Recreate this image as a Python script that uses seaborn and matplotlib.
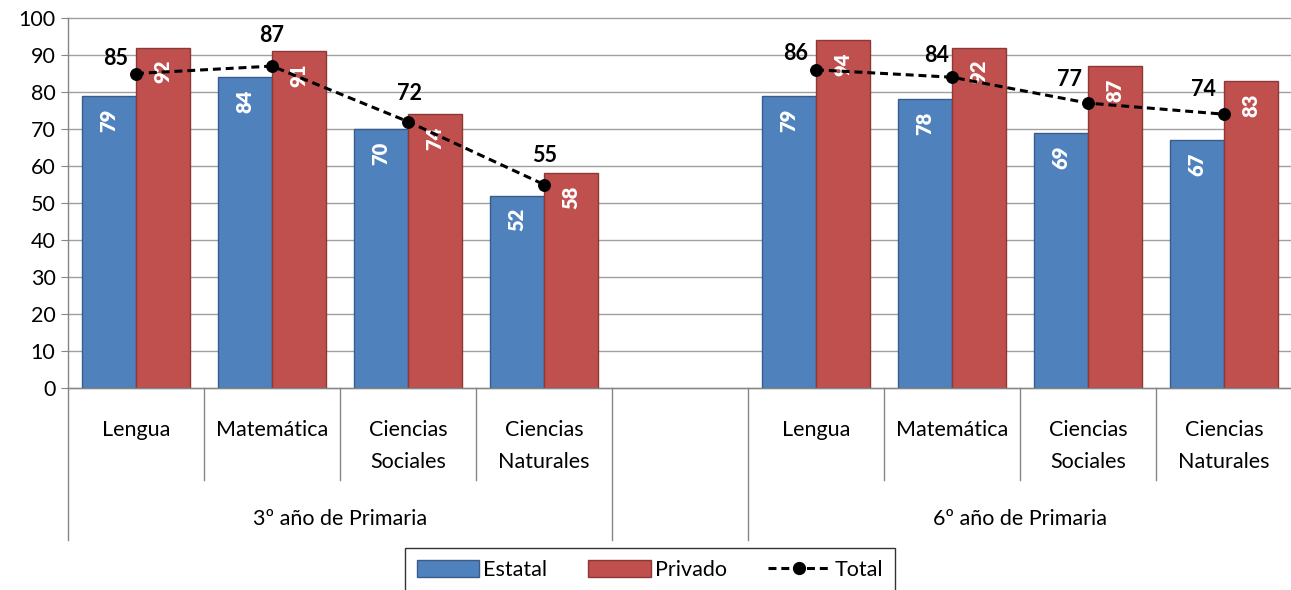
import numpy as np
import pandas as pd
import matplotlib
matplotlib.use("Agg")
import matplotlib.pyplot as plt
from matplotlib.patches import Patch
from matplotlib.lines import Line2D
import seaborn as sns

# ---------------- data ----------------
grupos = ["3º año de Primaria", "6º año de Primaria"]
materias = ["Lengua", "Matemática", "Ciencias\nSociales", "Ciencias\nNaturales"]
estatal_3 = [79, 84, 70, 52]
privado_3 = [92, 91, 74, 58]
total_3 = [85, 87, 72, 55]
estatal_6 = [79, 78, 69, 67]
privado_6 = [94, 92, 87, 83]
total_6 = [86, 84, 77, 74]
series = ["Estatal", "Privado"]
y_ticks = list(range(0, 101, 10))

# ---------------- styles ----------------
BLUE, BLUE_E = "#4F81BD", "#385D8A"
RED, RED_E = "#C0504D", "#8C3836"
GRID = "#A0A0A0"
FONT = ["Lato", "DejaVu Sans"]
plt.rcParams["font.family"] = FONT

# categorical slots: 4 subjects, an empty gap, 4 subjects
keys = [f"3-{i}" for i in range(4)] + ["gap"] + [f"6-{i}" for i in range(4)]
tick_labels = materias + [""] + materias

rows = []
for i in range(4):
    rows.append((keys[i], "Estatal", estatal_3[i]))
    rows.append((keys[i], "Privado", privado_3[i]))
rows.append(("gap", "Estatal", np.nan))
rows.append(("gap", "Privado", np.nan))
for i in range(4):
    rows.append((keys[5 + i], "Estatal", estatal_6[i]))
    rows.append((keys[5 + i], "Privado", privado_6[i]))
df = pd.DataFrame(rows, columns=["slot", "serie", "valor"])

pos = {k: i for i, k in enumerate(keys)}
df_t3 = pd.DataFrame({"x": [pos[k] for k in keys[:4]], "y": total_3})
df_t6 = pd.DataFrame({"x": [pos[k] for k in keys[5:]], "y": total_6})

fig = plt.figure(figsize=(12.91, 5.90), dpi=100)
ax = fig.add_axes([68 / 1291, 1 - 388 / 590, 1224 / 1291, 370 / 590])

sns.barplot(data=df, x="slot", y="valor", hue="serie", order=keys,
            hue_order=series, palette=[BLUE, RED], width=0.8, gap=0,
            ax=ax, legend=False, saturation=1, linewidth=1)
for cont, ec in zip(ax.containers, [BLUE_E, RED_E]):
    for bar in cont:
        bar.set_edgecolor(ec)
        h = bar.get_height()
        if np.isfinite(h) and h > 0:
            ax.annotate(f"{h:.0f}", xy=(bar.get_x() + bar.get_width() / 2, h),
                        xytext=(0, -9), textcoords="offset points",
                        rotation=90, ha="center", va="top", color="white",
                        fontsize=14.5, fontweight="heavy", zorder=5)

line_kw = dict(x="x", y="y", color="black", linestyle=(0, (2.6, 1.6)),
               linewidth=2.2, marker="o", markersize=8.5, markeredgecolor="black",
               sort=False, ax=ax, zorder=6)
sns.lineplot(data=df_t3, **line_kw)
sns.lineplot(data=df_t6, **line_kw)

# total labels (offsets in px -> points)
off_px = [(-20, 15), (0, 31), (2, 28), (1, 29),
          (-20, 16), (-15, 22), (-18, 24), (-21, 25)]
tx = list(df_t3["x"]) + list(df_t6["x"])
ty = total_3 + total_6
for (dx, dy), x, y in zip(off_px, tx, ty):
    ax.annotate(f"{y}", xy=(x, y), xytext=(dx * 0.72, dy * 0.72),
                textcoords="offset points", ha="center", va="center",
                fontsize=15.5, fontweight="bold", color="black", zorder=7)

# axes styling
ax.set_xlim(-0.5, 8.5)
ax.set_ylim(0, 100)
ax.set_yticks(y_ticks)
ax.set_xlabel("")
ax.set_ylabel("")
ax.yaxis.grid(True, color=GRID, linewidth=1)
ax.xaxis.grid(False)
ax.set_axisbelow(True)
for s in ["top", "right"]:
    ax.spines[s].set_visible(False)
for s in ["left", "bottom"]:
    ax.spines[s].set_color("#868686")
    ax.spines[s].set_linewidth(1)
ax.tick_params(axis="y", length=5, color="#868686", labelsize=15.5, pad=4)
ax.set_xticks(range(len(keys)))
ax.set_xticklabels(tick_labels)
ax.tick_params(axis="x", length=0, labelsize=15.5, pad=23)
for lbl in ax.get_xticklabels():
    lbl.set_linespacing(1.75)
for g in ax.get_ygridlines():
    g.set_clip_on(False)

# separators under the axis
trans = ax.get_xaxis_transform()
for b in np.arange(-0.5, 9.0, 1.0):
    long = b in (-0.5, 3.5, 4.5, 8.5)
    ylow = -152 / 370 if long else -92 / 370
    ax.plot([b, b], [0, ylow], transform=trans, color="#868686",
            linewidth=1, clip_on=False)

# group labels
ax.text(1.5, -131 / 370, grupos[0], transform=trans, ha="center",
        va="center", fontsize=15.5)
ax.text(6.5, -131 / 370, grupos[1], transform=trans, ha="center",
        va="center", fontsize=15.5)

# legend
handles = [Patch(facecolor=BLUE, edgecolor=BLUE_E),
           Patch(facecolor=RED, edgecolor=RED_E),
           Line2D([0], [0], color="black", linestyle=(0, (2.6, 1.6)),
                  linewidth=2.2, marker="o", markersize=8.5)]
leg = fig.legend(handles, ["Estatal", "Privado", "Total"], ncol=3,
                 loc="upper center", bbox_to_anchor=(650 / 1291, 1 - 548 / 590),
                 frameon=True, fancybox=False, edgecolor="black",
                 fontsize=15.5, handlelength=2.9, handleheight=0.8,
                 handletextpad=0.2, columnspacing=1.9, borderpad=0.55,
                 borderaxespad=0)
leg.get_frame().set_linewidth(1)

fig.savefig("out.png", dpi=100)
